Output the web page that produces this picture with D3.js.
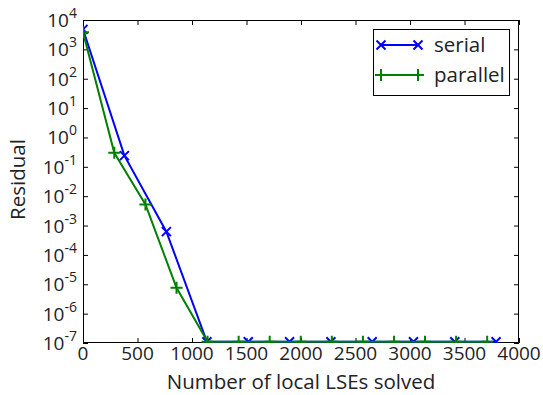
<!DOCTYPE html>
<html>
<head>
<meta charset="utf-8">
<script src="https://cdn.jsdelivr.net/npm/d3@7"></script>
<style>
body { margin: 0; background: #fff; }
text { font-family: "Open Sans", sans-serif; fill: #222; }
</style>
</head>
<body>
<script>
// serial run: residual per number of local LSEs solved
const serialX = [0, 380, 765, 1137, 1516, 1895, 2274, 2653, 3032, 3411, 3790]
const serialY = [4800, 0.24, 0.00062, 1.1e-7, 1.1e-7, 1.1e-7, 1.1e-7, 1.1e-7, 1.1e-7, 1.1e-7, 1.1e-7]

// parallel run
const parallelX = [0, 287, 573, 858, 1143, 1428, 1713, 1998, 2283, 2568, 2853, 3138, 3423, 3708]
const parallelY = [3800, 0.3, 0.0052, 7.6e-6, 1.1e-7, 1.1e-7, 1.1e-7, 1.1e-7, 1.1e-7, 1.1e-7, 1.1e-7, 1.1e-7, 1.1e-7, 1.1e-7]

const xTicks = [0, 500, 1000, 1500, 2000, 2500, 3000, 3500, 4000]
const yExponents = [4, 3, 2, 1, 0, -1, -2, -3, -4, -5, -6, -7]

const width = 543
const height = 395
const pLeft = 83, pRight = 519, pTop = 20, pBottom = 343
const fs = 20.5      // titles and legend
const tickFs = 19    // tick labels

const svg = d3.select('body')
	.append('svg')
	.attr('width', width)
	.attr('height', height)

const x = d3.scaleLinear().domain([0, 4000]).range([pLeft, pRight])
const y = d3.scaleLog().domain([1e-7, 1e4]).range([pBottom, pTop])

svg.append('clipPath').attr('id', 'plot')
	.append('rect')
	.attr('x', pLeft).attr('y', pTop)
	.attr('width', pRight - pLeft).attr('height', pBottom - pTop)

// axes with inward ticks on all four sides
const yVals = yExponents.map(e => Math.pow(10, e))
const drawAxis = (axis, tx, ty) => {
	const g = svg.append('g').attr('transform', `translate(${tx},${ty})`).call(axis)
	g.select('.domain').remove()
	g.selectAll('line').attr('stroke', '#000').attr('stroke-width', 1)
	return g
}
drawAxis(d3.axisBottom(x).tickValues(xTicks).tickSize(-5).tickFormat(''), 0, pBottom)
drawAxis(d3.axisTop(x).tickValues(xTicks).tickSize(-5).tickFormat(''), 0, pTop)
drawAxis(d3.axisLeft(y).tickValues(yVals).tickSize(-5).tickFormat(''), pLeft, 0)
drawAxis(d3.axisRight(y).tickValues(yVals).tickSize(-5).tickFormat(''), pRight, 0)

// x tick labels
svg.append('g').selectAll('text')
	.data(xTicks)
	.enter()
	.append('text')
	.attr('x', d => x(d))
	.attr('y', 360)
	.attr('text-anchor', 'middle')
	.attr('font-size', tickFs)
	.text(d => d)

// y tick labels as 10 with superscript exponent
svg.append('g').selectAll('text')
	.data(yExponents)
	.enter()
	.append('text')
	.attr('x', pLeft - 6)
	.attr('y', d => y(Math.pow(10, d)) + 7)
	.attr('text-anchor', 'end')
	.attr('font-size', tickFs)
	.each(function(d) {
		const t = d3.select(this)
		t.append('tspan').text('10')
		t.append('tspan').attr('dy', -9).attr('font-size', 14).text(d < 0 ? '-' + (-d) : d)
	})

svg.append('rect')
	.attr('x', pLeft + 0.5).attr('y', pTop + 0.5)
	.attr('width', pRight - pLeft - 1).attr('height', pBottom - pTop - 1)
	.attr('fill', 'none').attr('stroke', '#000').attr('stroke-width', 1)

const series = [
	{name: 'serial', xs: serialX, ys: serialY, color: '#0000ff', marker: 'x'},
	{name: 'parallel', xs: parallelX, ys: parallelY, color: '#008000', marker: '+'}
]

const markerPath = (m, cx, cy) => m === 'x'
	? `M${cx - 4.5},${cy - 4.5}L${cx + 4.5},${cy + 4.5}M${cx - 4.5},${cy + 4.5}L${cx + 4.5},${cy - 4.5}`
	: `M${cx - 6},${cy}L${cx + 6},${cy}M${cx},${cy - 6}L${cx},${cy + 6}`

const line = d3.line().x(d => x(d[0])).y(d => y(d[1]))
const plot = svg.append('g').attr('clip-path', 'url(#plot)')

series.forEach(s => {
	const pts = s.xs.map((v, i) => [v, s.ys[i]])
	plot.append('path')
		.attr('d', line(pts))
		.attr('fill', 'none')
		.attr('stroke', s.color)
		.attr('stroke-width', 2)
	plot.selectAll(null)
		.data(pts)
		.enter()
		.append('path')
		.attr('d', d => markerPath(s.marker, x(d[0]), y(d[1])))
		.attr('stroke', s.color)
		.attr('stroke-width', 2)
})

// legend
const lg = svg.append('g')
lg.append('rect')
	.attr('x', 373.5).attr('y', 29.5)
	.attr('width', 136).attr('height', 66)
	.attr('fill', '#fff').attr('stroke', '#000').attr('stroke-width', 1)
series.forEach((s, i) => {
	const ly0 = 45 + i * 30
	lg.append('line')
		.attr('x1', 381).attr('x2', 418)
		.attr('y1', ly0).attr('y2', ly0)
		.attr('stroke', s.color).attr('stroke-width', 2)
	lg.append('path')
		.attr('d', markerPath(s.marker, 381, ly0) + markerPath(s.marker, 418, ly0))
		.attr('stroke', s.color).attr('stroke-width', 2)
	lg.append('text')
		.attr('x', 434).attr('y', ly0 + 7)
		.attr('font-size', fs)
		.text(s.name)
})

svg.append('text')
	.attr('x', (pLeft + pRight) / 2)
	.attr('y', 389)
	.attr('text-anchor', 'middle')
	.attr('font-size', fs)
	.text('Number of local LSEs solved')

svg.append('text')
	.attr('transform', `translate(25,${(pTop + pBottom) / 2 - 2}) rotate(-90)`)
	.attr('text-anchor', 'middle')
	.attr('font-size', fs)
	.text('Residual')
</script>
</body>
</html>
